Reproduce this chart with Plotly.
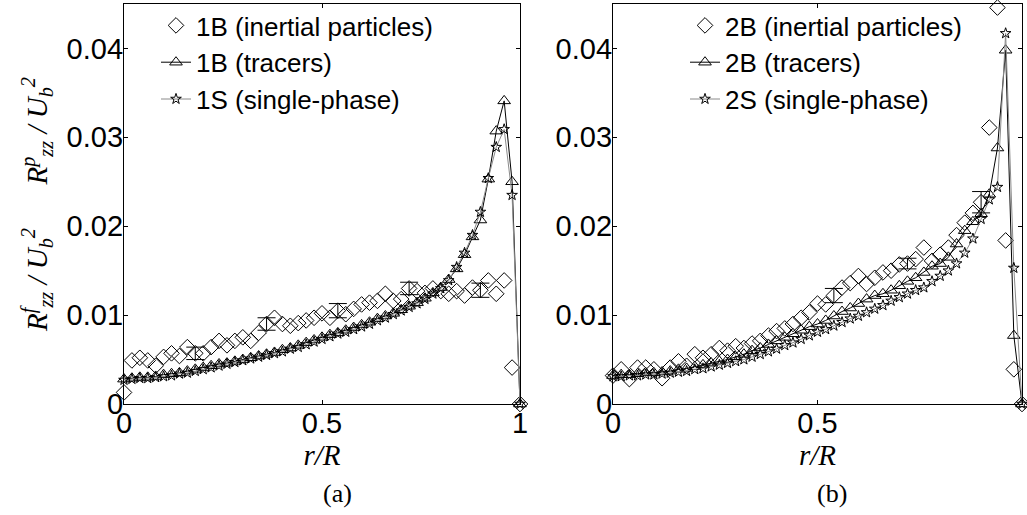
import plotly.graph_objects as go

W, H = 1027, 515

# ---------------- data ----------------
r_over_R = [0.00, 0.02, 0.04, 0.06, 0.08, 0.10, 0.12, 0.14, 0.16, 0.18,
            0.20, 0.22, 0.24, 0.26, 0.28, 0.30, 0.32, 0.34, 0.36, 0.38,
            0.40, 0.42, 0.44, 0.46, 0.48, 0.50, 0.52, 0.54, 0.56, 0.58,
            0.60, 0.62, 0.64, 0.66, 0.68, 0.70, 0.72, 0.74, 0.76, 0.78,
            0.80, 0.82, 0.84, 0.86, 0.88, 0.90, 0.92, 0.94, 0.96, 0.98, 1.00]

# panel (a)
inertial_1B = [0.0013, 0.0049, 0.0052, 0.0049, 0.0043, 0.0053, 0.0057, 0.0054, 0.0064, 0.0057,
               0.0057, 0.0064, 0.0071, 0.0066, 0.0071, 0.0075, 0.0071, 0.0080, 0.0090, 0.0097,
               0.0090, 0.0088, 0.0091, 0.0094, 0.0097, 0.0102, 0.0097, 0.0105, 0.0101, 0.0107,
               0.0112, 0.0114, 0.0116, 0.0124, 0.0116, 0.0118, 0.0130, 0.0127, 0.0125, 0.0130,
               0.0127, 0.0124, 0.0127, 0.0122, 0.0131, 0.0128, 0.0139, 0.0124, 0.0139, 0.0041, 0.0000]
tracers_1B = [0.0028, 0.0029, 0.0030, 0.0030, 0.0031, 0.0033, 0.0034, 0.0035, 0.0037, 0.0039,
              0.0041, 0.0043, 0.0045, 0.0046, 0.0048, 0.0050, 0.0052, 0.0054, 0.0056, 0.0058,
              0.0061, 0.0063, 0.0066, 0.0069, 0.0072, 0.0075, 0.0078, 0.0080, 0.0083, 0.0086,
              0.0089, 0.0092, 0.0096, 0.0099, 0.0102, 0.0106, 0.0110, 0.0114, 0.0119, 0.0125,
              0.0131, 0.0140, 0.0152, 0.0168, 0.0188, 0.0207, 0.0253, 0.0307, 0.0341, 0.0250, 0.0000]
single_1S = [0.0027, 0.0028, 0.0029, 0.0029, 0.0030, 0.0031, 0.0032, 0.0034, 0.0035, 0.0037,
             0.0039, 0.0041, 0.0043, 0.0045, 0.0047, 0.0049, 0.0051, 0.0053, 0.0055, 0.0057,
             0.0059, 0.0062, 0.0064, 0.0067, 0.0070, 0.0073, 0.0076, 0.0079, 0.0081, 0.0084,
             0.0087, 0.0090, 0.0094, 0.0097, 0.0101, 0.0105, 0.0109, 0.0113, 0.0118, 0.0124,
             0.0130, 0.0139, 0.0154, 0.0170, 0.0190, 0.0216, 0.0254, 0.0289, 0.0309, 0.0235, 0.0000]
err_idx_a = [9, 18, 27, 36, 45]
err_1B = [0.0007, 0.0007, 0.0008, 0.0007, 0.0008]

# panel (b)
inertial_2B = [0.0032, 0.0039, 0.0028, 0.0041, 0.0041, 0.0039, 0.0029, 0.0041, 0.0048, 0.0043,
               0.0056, 0.0052, 0.0056, 0.0063, 0.0060, 0.0065, 0.0063, 0.0068, 0.0071, 0.0077,
               0.0082, 0.0085, 0.0090, 0.0097, 0.0103, 0.0113, 0.0112, 0.0122, 0.0131, 0.0136,
               0.0144, 0.0135, 0.0142, 0.0148, 0.0150, 0.0157, 0.0158, 0.0163, 0.0176, 0.0161,
               0.0168, 0.0176, 0.0190, 0.0204, 0.0215, 0.0227, 0.0311, 0.0446, 0.0184, 0.0039, 0.0000]
tracers_2B = [0.0032, 0.0033, 0.0033, 0.0034, 0.0035, 0.0035, 0.0036, 0.0037, 0.0039, 0.0040,
              0.0042, 0.0044, 0.0046, 0.0048, 0.0050, 0.0053, 0.0056, 0.0060, 0.0063, 0.0067,
              0.0071, 0.0075, 0.0079, 0.0083, 0.0087, 0.0090, 0.0094, 0.0099, 0.0104, 0.0108,
              0.0113, 0.0118, 0.0122, 0.0124, 0.0128, 0.0133, 0.0138, 0.0142, 0.0148, 0.0155,
              0.0158, 0.0165, 0.0180, 0.0195, 0.0205, 0.0214, 0.0236, 0.0288, 0.0398, 0.0077, 0.0000]
single_2S = [0.0031, 0.0031, 0.0032, 0.0032, 0.0033, 0.0033, 0.0034, 0.0035, 0.0036, 0.0037,
             0.0039, 0.0040, 0.0042, 0.0044, 0.0046, 0.0048, 0.0050, 0.0053, 0.0056, 0.0059,
             0.0062, 0.0066, 0.0069, 0.0073, 0.0077, 0.0081, 0.0084, 0.0088, 0.0092, 0.0096,
             0.0099, 0.0103, 0.0107, 0.0111, 0.0116, 0.0120, 0.0124, 0.0128, 0.0131, 0.0138,
             0.0144, 0.0150, 0.0158, 0.0170, 0.0186, 0.0208, 0.0230, 0.0244, 0.0417, 0.0153, 0.0000]
err_idx_b = [27, 36, 45]
err_2B = [0.0008, 0.0006, 0.0012]

y_ticks = [0, 0.01, 0.02, 0.03, 0.04]
y_tick_text = ["0", "0.01", "0.02", "0.03", "0.04"]
x_ticks = [0, 0.5, 1]
x_tick_text = ["0", "0.5", "1"]

legend_a = ["1B (inertial particles)", "1B (tracers)", "1S (single-phase)"]
legend_b = ["2B (inertial particles)", "2B (tracers)", "2S (single-phase)"]

# ---------------- figure ----------------
SANS = "Liberation Sans, Arial, Helvetica, sans-serif"
SERIF = "Liberation Serif, Times New Roman, serif"
FS = 29
FL = 26

fig = go.Figure()


def add_panel(xa, ya, leg, names, inert, trac, single, err_idx, err_vals):
    fig.add_trace(go.Scatter(
        x=r_over_R, y=inert, mode="markers", name=names[0], legend=leg,
        xaxis=xa, yaxis=ya, cliponaxis=False,
        marker=dict(symbol="diamond-open", size=12, color="black",
                    line=dict(width=1, color="black"))))
    fig.add_trace(go.Scatter(
        x=r_over_R, y=trac, mode="lines+markers", name=names[1], legend=leg,
        xaxis=xa, yaxis=ya, cliponaxis=False,
        line=dict(color="black", width=1),
        marker=dict(symbol="triangle-up-open", size=11, color="black",
                    line=dict(width=1, color="black"))))
    fig.add_trace(go.Scatter(
        x=r_over_R, y=single, mode="lines+markers", name=names[2], legend=leg,
        xaxis=xa, yaxis=ya, cliponaxis=False,
        line=dict(color="#8a8a8a", width=1),
        marker=dict(symbol="star-open", size=8, color="black",
                    line=dict(width=1, color="black"))))
    fig.add_trace(go.Scatter(
        x=[r_over_R[i] for i in err_idx], y=[inert[i] for i in err_idx],
        mode="markers", showlegend=False, xaxis=xa, yaxis=ya, cliponaxis=False,
        marker=dict(size=1, color="rgba(0,0,0,0)"),
        error_y=dict(type="data", array=err_vals, visible=True,
                     color="black", thickness=1, width=9),
        hoverinfo="skip"))


add_panel("x", "y", "legend", legend_a, inertial_1B, tracers_1B, single_1S, err_idx_a, err_1B)
add_panel("x2", "y2", "legend2", legend_b, inertial_2B, tracers_2B, single_2S, err_idx_b, err_2B)

ydom = [1 - 404 / H, 1 - 4 / H]
axis_common = dict(showline=True, linecolor="black", linewidth=1.3, mirror="allticks",
                   ticks="inside", ticklen=4, tickwidth=1, tickcolor="black",
                   showgrid=False, zeroline=False, automargin=False,
                   tickfont=dict(family=SANS, size=FS, color="black"))

xtitle = dict(text="<i>r/R</i>", font=dict(family=SERIF, size=FS, color="black"), standoff=2)

fig.update_layout(
    width=W, height=H,
    margin=dict(l=0, r=0, t=0, b=0, autoexpand=False),
    paper_bgcolor="white", plot_bgcolor="white",
    xaxis=dict(domain=[124 / W, 520 / W], range=[0, 1], anchor="y",
               tickvals=x_ticks, ticktext=x_tick_text, title=xtitle,
               ticklabelstandoff=-7, **axis_common),
    yaxis=dict(domain=ydom, range=[0, 0.045], anchor="x",
               tickvals=y_ticks, ticktext=y_tick_text, ticklabelstandoff=-6,
               title=dict(text="<i>R<sup>f</sup><sub>zz</sub> / U<sub>b</sub><sup>2</sup>"
                               "      R<sup>p</sup><sub>zz</sub> / U<sub>b</sub><sup>2</sup></i>",
                          font=dict(family=SERIF, size=FS, color="black"), standoff=10),
               **axis_common),
    xaxis2=dict(domain=[613 / W, 1022 / W], range=[0, 1], anchor="y2",
                tickvals=x_ticks, ticktext=x_tick_text, title=xtitle,
                ticklabelstandoff=-7, **axis_common),
    yaxis2=dict(domain=ydom, range=[0, 0.045], anchor="x2",
                tickvals=y_ticks, ticktext=y_tick_text, ticklabelstandoff=-6,
                **axis_common),
    legend=dict(x=156 / W, y=1 - 2 / H, xanchor="left", yanchor="top",
                bgcolor="rgba(0,0,0,0)", tracegroupgap=0,
                font=dict(family=SANS, size=FL, color="black")),
    legend2=dict(x=685 / W, y=1 - 2 / H, xanchor="left", yanchor="top",
                 bgcolor="rgba(0,0,0,0)", tracegroupgap=0,
                 font=dict(family=SANS, size=FL, color="black")),
    annotations=[
        dict(text="(a)", x=337 / W, y=1 - 493 / H, xref="paper", yref="paper",
             xanchor="center", yanchor="middle",
             showarrow=False, font=dict(family=SERIF, size=FL, color="black")),
        dict(text="(b)", x=832 / W, y=1 - 493 / H, xref="paper", yref="paper",
             xanchor="center", yanchor="middle",
             showarrow=False, font=dict(family=SERIF, size=FL, color="black")),
    ],
)

fig.write_html("out.html", config={"displayModeBar": False},
               post_script="document.body.style.margin='0';")
